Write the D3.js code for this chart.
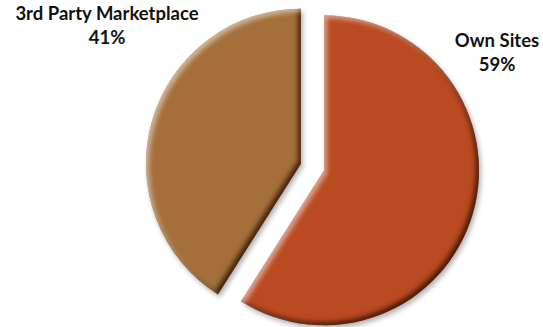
<!DOCTYPE html>
<html>
<head>
<meta charset="utf-8">
<script src="https://cdn.jsdelivr.net/npm/d3@7/dist/d3.min.js"></script>
<style>
  html, body { margin: 0; padding: 0; background: #fff; }
  svg { display: block; }
  text { font-family: Lato, "Open Sans", "Liberation Sans", sans-serif; font-weight: bold; fill: #111; }
</style>
</head>
<body>
<svg id="chart" width="543" height="327"></svg>
<script>
// Sales channel share
const categories = ["Own Sites", "3rd Party Marketplace"];
const shares = [59, 41];
const sliceColors = ["#B94A21", "#A46F3A"];

const svg = d3.select("#chart");
const cx = 312.5, cy = 167, radius = 155, explode = 12;

// Bevel look: soft drop shadow, dark lower-right rim, light upper-left rim
const defs = svg.append("defs");
const f = defs.append("filter").attr("id", "bevel")
  .attr("x", "-15%").attr("y", "-15%").attr("width", "130%").attr("height", "130%")
  .attr("color-interpolation-filters", "sRGB");
f.append("feGaussianBlur").attr("in", "SourceAlpha").attr("stdDeviation", 2.4).attr("result", "blur");
f.append("feGaussianBlur").attr("in", "SourceAlpha").attr("stdDeviation", 2.5).attr("result", "sblur");
f.append("feOffset").attr("in", "sblur").attr("dx", 2).attr("dy", 3).attr("result", "soff");
f.append("feFlood").attr("flood-color", "#000").attr("flood-opacity", 0.3);
f.append("feComposite").attr("in2", "soff").attr("operator", "in").attr("result", "shadow");
f.append("feOffset").attr("in", "blur").attr("dx", -2.8).attr("dy", -2.8).attr("result", "b1");
f.append("feComposite").attr("in", "SourceAlpha").attr("in2", "b1").attr("operator", "out").attr("result", "m1");
f.append("feFlood").attr("flood-color", "#2a0e00").attr("flood-opacity", 0.8);
f.append("feComposite").attr("in2", "m1").attr("operator", "in").attr("result", "dark");
f.append("feOffset").attr("in", "blur").attr("dx", 2.8).attr("dy", 2.8).attr("result", "b2");
f.append("feComposite").attr("in", "SourceAlpha").attr("in2", "b2").attr("operator", "out").attr("result", "m2");
f.append("feFlood").attr("flood-color", "#fff").attr("flood-opacity", 0.5);
f.append("feComposite").attr("in2", "m2").attr("operator", "in").attr("result", "light");
const merge = f.append("feMerge");
["shadow", "SourceGraphic", "dark", "light"].forEach(n => merge.append("feMergeNode").attr("in", n));

const pie = d3.pie().sort(null).value(d => d);
const arcs = pie(shares);
const arc = d3.arc().innerRadius(0).outerRadius(radius);

const g = svg.append("g").attr("transform", `translate(${cx},${cy})`);
g.selectAll("path")
  .data(arcs)
  .join("path")
  .attr("d", arc)
  .attr("fill", (d, i) => sliceColors[i])
  .attr("filter", "url(#bevel)")
  .attr("transform", d => {
    const a = (d.startAngle + d.endAngle) / 2;
    return `translate(${explode * Math.sin(a)},${-explode * Math.cos(a)})`;
  });

// Category labels with percentages
const labelPos = [[497, 47], [107, 20]];
arcs.forEach((d, i) => {
  const t = svg.append("text")
    .attr("x", labelPos[i][0]).attr("y", labelPos[i][1])
    .attr("text-anchor", "middle")
    .style("font-size", "18.5px");
  t.append("tspan").attr("x", labelPos[i][0]).text(categories[i]);
  t.append("tspan").attr("x", labelPos[i][0]).attr("dy", 24).text(shares[i] + "%");
});
</script>
</body>
</html>
